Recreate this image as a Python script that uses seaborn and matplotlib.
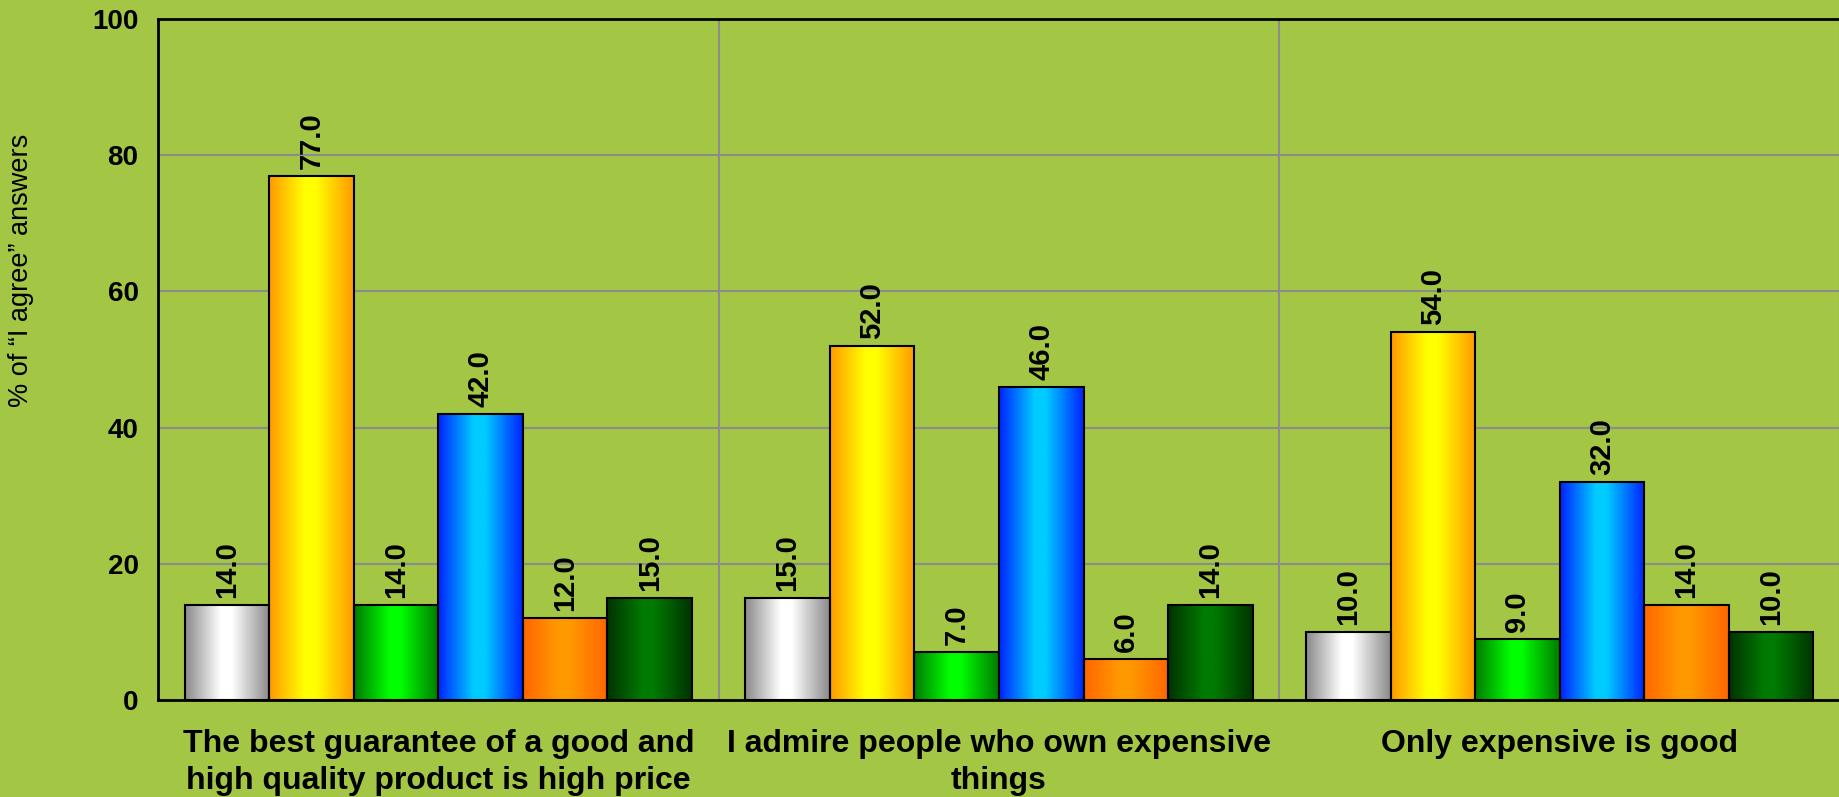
import numpy as np
import pandas as pd
import matplotlib
matplotlib.use("Agg")
import matplotlib.pyplot as plt
from matplotlib.colors import LinearSegmentedColormap
import seaborn as sns

# Survey statements and "I agree" shares for six respondent groups
categories = [
    "The best guarantee of a good and\nhigh quality product is high price",
    "I admire people who own expensive\nthings",
    "Only expensive is good",
]
groups = ["Group 1", "Group 2", "Group 3", "Group 4", "Group 5", "Group 6"]
group1 = [14.0, 15.0, 10.0]
group2 = [77.0, 52.0, 54.0]
group3 = [14.0, 7.0, 9.0]
group4 = [42.0, 46.0, 32.0]
group5 = [12.0, 6.0, 14.0]
group6 = [15.0, 14.0, 10.0]
yticks = [0, 20, 40, 60, 80, 100]

# (edge shade, centre shade) of each group's horizontal gradient
shades = [
    ("#8a8a8a", "#ffffff"),
    ("#ff9900", "#ffff00"),
    ("#007a00", "#00ff00"),
    ("#0022ff", "#00ccff"),
    ("#ff6600", "#ff9900"),
    ("#003300", "#007a00"),
]

values = [group1, group2, group3, group4, group5, group6]
df = pd.DataFrame(
    [(cat, g, v) for g, vals in zip(groups, values) for cat, v in zip(categories, vals)],
    columns=["statement", "group", "value"],
)

BG = "#a3c644"
sns.set_theme(style="white")
plt.rcParams["font.family"] = ["Liberation Sans", "DejaVu Sans"]
plt.rcParams["text.color"] = "black"
plt.rcParams["xtick.color"] = "black"
plt.rcParams["ytick.color"] = "black"
plt.rcParams["xtick.labelcolor"] = "black"
plt.rcParams["ytick.labelcolor"] = "black"

fig = plt.figure(figsize=(18.4, 7.97), dpi=100, facecolor=BG)
ax = fig.add_axes([158 / 1840, 1 - 700 / 797, 1 - 158 / 1840, (700 - 19) / 797])
ax.set_facecolor(BG)

sns.barplot(
    data=df, x="statement", y="value", hue="group", order=categories,
    hue_order=groups, palette=[c for _, c in shades], width=0.905,
    edgecolor="black", linewidth=1.5, legend=False, ax=ax,
)

# Replace flat fills with a left-to-right shaded gradient clipped to each bar
for container, (edge, centre) in zip(ax.containers, shades):
    cmap = LinearSegmentedColormap.from_list(
        "bar", [(0.0, edge), (0.42, centre), (0.55, centre), (1.0, edge)]
    )
    grad = np.linspace(0, 1, 256).reshape(1, -1)
    for patch in container.patches:
        x, y = patch.get_x(), patch.get_y()
        w, h = patch.get_width(), patch.get_height()
        im = ax.imshow(grad, cmap=cmap, aspect="auto", extent=[x, x + w, y, y + h],
                       interpolation="bilinear", zorder=2)
        im.set_clip_path(patch)
        patch.set_facecolor("none")
        patch.set_zorder(3)
    ax.bar_label(container, fmt="%.1f", rotation=90, padding=5,
                 fontsize=21, fontweight="bold", color="black")

ax.set_xlim(-0.5, 2.5)
ax.set_ylim(0, 100)
ax.set_yticks(yticks)
ax.set_yticklabels([str(t) for t in yticks], fontsize=20, fontweight="bold")
ax.set_xticks(range(len(categories)))
ax.set_xticklabels(categories, fontsize=23, fontweight="bold", linespacing=1.3)
ax.set_xticks([-0.5, 0.5, 1.5, 2.5], minor=True)
ax.tick_params(axis="x", which="major", length=0, pad=21)
ax.tick_params(axis="x", which="minor", length=8, width=1.5, color="black", direction="out")
ax.tick_params(axis="y", length=8, width=1.5, color="black", direction="out", pad=6)
ax.set_xlabel("")
ax.set_ylabel("")

ax.set_axisbelow(True)
ax.grid(axis="y", color="#8c8c8c", linewidth=1.5)
ax.grid(axis="x", which="minor", color="#8c8c8c", linewidth=1.5)
ax.grid(axis="x", which="major", visible=False)

for side in ["left", "bottom", "top"]:
    ax.spines[side].set_visible(True)
    ax.spines[side].set_color("black")
    ax.spines[side].set_linewidth(2)
ax.spines["right"].set_visible(False)

fig.text(21 / 1840, 1 - 270 / 797, "% of \u201cI agree\u201d answers", rotation=90,
         ha="center", va="center", fontsize=19.5, color="black")

fig.savefig("out.png", dpi=100, facecolor=BG)
